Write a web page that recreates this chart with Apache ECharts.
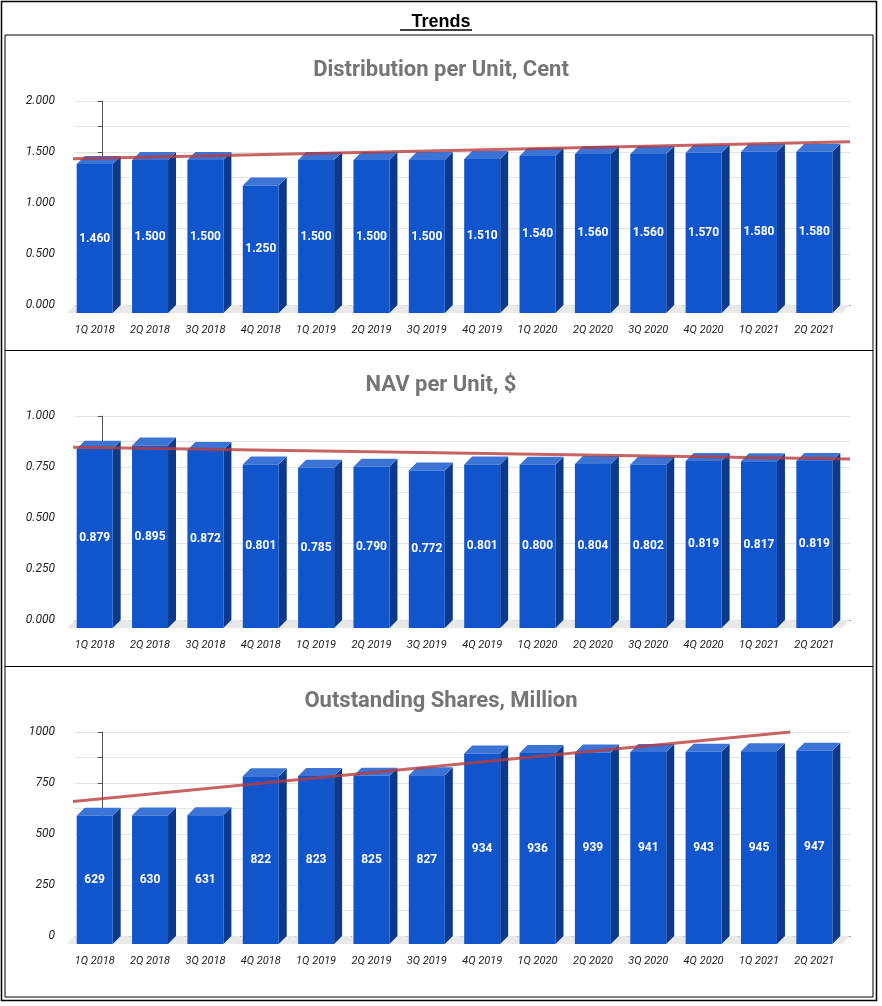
<!DOCTYPE html>
<html><head><meta charset="utf-8">
<script src="https://cdn.jsdelivr.net/npm/echarts@6/dist/echarts.min.js"></script>
<style>html,body{margin:0;padding:0;background:#fff}#c{width:882px;height:1006px}</style>
</head><body><div id="c"></div>
<script>
var categories = ['1Q 2018','2Q 2018','3Q 2018','4Q 2018','1Q 2019','2Q 2019','3Q 2019','4Q 2019','1Q 2020','2Q 2020','3Q 2020','4Q 2020','1Q 2021','2Q 2021'];
var distribution = [1.460,1.500,1.500,1.250,1.500,1.500,1.500,1.510,1.540,1.560,1.560,1.570,1.580,1.580];
var nav = [0.879,0.895,0.872,0.801,0.785,0.790,0.772,0.801,0.800,0.804,0.802,0.819,0.817,0.819];
var shares = [629,630,631,822,823,825,827,934,936,939,941,943,945,947];
var titles = ['Distribution per Unit, Cent','NAV per Unit, $','Outstanding Shares, Million'];
// trend line end points [category index, value]
var trendDist = [[-0.8,1.43],[13.5,1.60]];
var trendNav = [[-0.8,0.848],[13.5,0.789]];
var trendShares = [[-0.82,652],[12.42,1000]];

var chart = echarts.init(document.getElementById('c'));
var D = 8;
var panels = [
  {data: distribution, trend: trendDist, top: 101, max: 2, interval: 0.5, dec: 3, title: 67},
  {data: nav, trend: trendNav, top: 416, max: 1, interval: 0.25, dec: 3, title: 382},
  {data: shares, trend: trendShares, top: 732, max: 1000, interval: 250, dec: 0, title: 698}
];
var grid = [], xAxis = [], yAxis = [], series = [], title = [];
panels.forEach(function (p, k) {
  title.push({text: titles[k], left: 'center', top: p.title - 13,
    textStyle: {fontFamily: 'Roboto', fontSize: 22, fontWeight: 'bold', color: '#757575'}});
  grid.push({left: 75, width: 775, top: p.top, height: 204});
  xAxis.push({type: 'category', gridIndex: k, data: categories,
    axisLine: {show: true, lineStyle: {color: '#333'}}, axisTick: {show: false},
    axisLabel: {interval: 0, margin: 20, padding: [0, 16, 0, 0], fontStyle: 'italic',
      fontFamily: 'Roboto', fontSize: 11, color: '#222'}});
  xAxis.push({type: 'value', gridIndex: k, min: -0.5, max: 13.5, show: false});
  yAxis.push({type: 'value', gridIndex: k, min: 0, max: p.max, interval: p.interval / 2,
    splitLine: {lineStyle: {color: '#e3e3e3'}},
    axisLabel: {fontStyle: 'italic', fontFamily: 'Roboto', fontSize: 12, color: '#222', margin: 20,
      formatter: function (v) {
        if (Math.abs(v / p.interval - Math.round(v / p.interval)) > 1e-6) return '';
        return v.toFixed(p.dec);
      }}});
  // floor
  series.push({type: 'custom', xAxisIndex: 2 * k, yAxisIndex: k, data: p.data, z: 1,
    renderItem: function (params, api) {
      var c = api.coord([api.value(0), 0]);
      var bw = api.size([1, 0])[0];
      return {type: 'polygon', shape: {points: [[c[0] - bw / 2 - D, c[1] + D], [c[0] + bw / 2 - D, c[1] + D],
        [c[0] + bw / 2, c[1]], [c[0] - bw / 2, c[1]]]}, style: {fill: '#e8e8e8'}};
    }});
  // 3d bars
  series.push({type: 'custom', xAxisIndex: 2 * k, yAxisIndex: k, data: p.data, z: 3,
    renderItem: function (params, api) {
      var v = api.value(1);
      var t = api.coord([api.value(0), v]);
      var b = api.coord([api.value(0), 0]);
      var bw = api.size([1, 0])[0];
      var w = bw * 0.65, fl = t[0] - w / 2 - D / 2 - 4, yt = t[1], y0 = b[1];
      return {type: 'group', children: [
        {type: 'polygon', shape: {points: [[fl + w, yt + D], [fl + w + D, yt], [fl + w + D, y0], [fl + w, y0 + D]]},
          style: {fill: '#0b3a8c'}},
        {type: 'polygon', shape: {points: [[fl, yt + D], [fl + w, yt + D], [fl + w + D, yt], [fl + D, yt]]},
          style: {fill: '#3c74d6'}},
        {type: 'rect', shape: {x: fl, y: yt + D, width: w, height: y0 - yt},
          style: {fill: '#1155cc'}},
        {type: 'text', x: fl + w / 2, y: (yt + y0) / 2 + D,
          style: {text: v.toFixed(p.dec), fill: '#fff', font: 'bold 12px Roboto', align: 'center', verticalAlign: 'middle'}}
      ]};
    }});
  series.push({type: 'line', xAxisIndex: 2 * k + 1, yAxisIndex: k, data: p.trend, symbol: 'none', clip: false, z: 5,
    lineStyle: {color: '#b83c3c', width: 3, opacity: 0.8}});
});
chart.setOption({
  animation: false,
  title: title.concat([{text: 'Trends', left: 'center', top: 8,
    textStyle: {fontFamily: 'Liberation Sans', fontSize: 18, fontWeight: 'bold', color: '#000', textBorderWidth: 0}}]),
  grid: grid, xAxis: xAxis, yAxis: yAxis, series: series,
  graphic: [
    {type: 'rect', shape: {x: 1.5, y: 1.5, width: 875, height: 999}, style: {fill: null, stroke: '#000', lineWidth: 1.5}},
    {type: 'rect', shape: {x: 5, y: 35, width: 868, height: 962}, style: {fill: null, stroke: '#000', lineWidth: 1}},
    {type: 'line', shape: {x1: 5, y1: 350.5, x2: 873, y2: 350.5}, style: {stroke: '#000', lineWidth: 1}},
    {type: 'line', shape: {x1: 5, y1: 666.5, x2: 873, y2: 666.5}, style: {stroke: '#000', lineWidth: 1}},
    {type: 'line', shape: {x1: 400, y1: 30, x2: 472, y2: 30}, style: {stroke: '#000', lineWidth: 1.5}}
  ]
});
</script></body></html>
